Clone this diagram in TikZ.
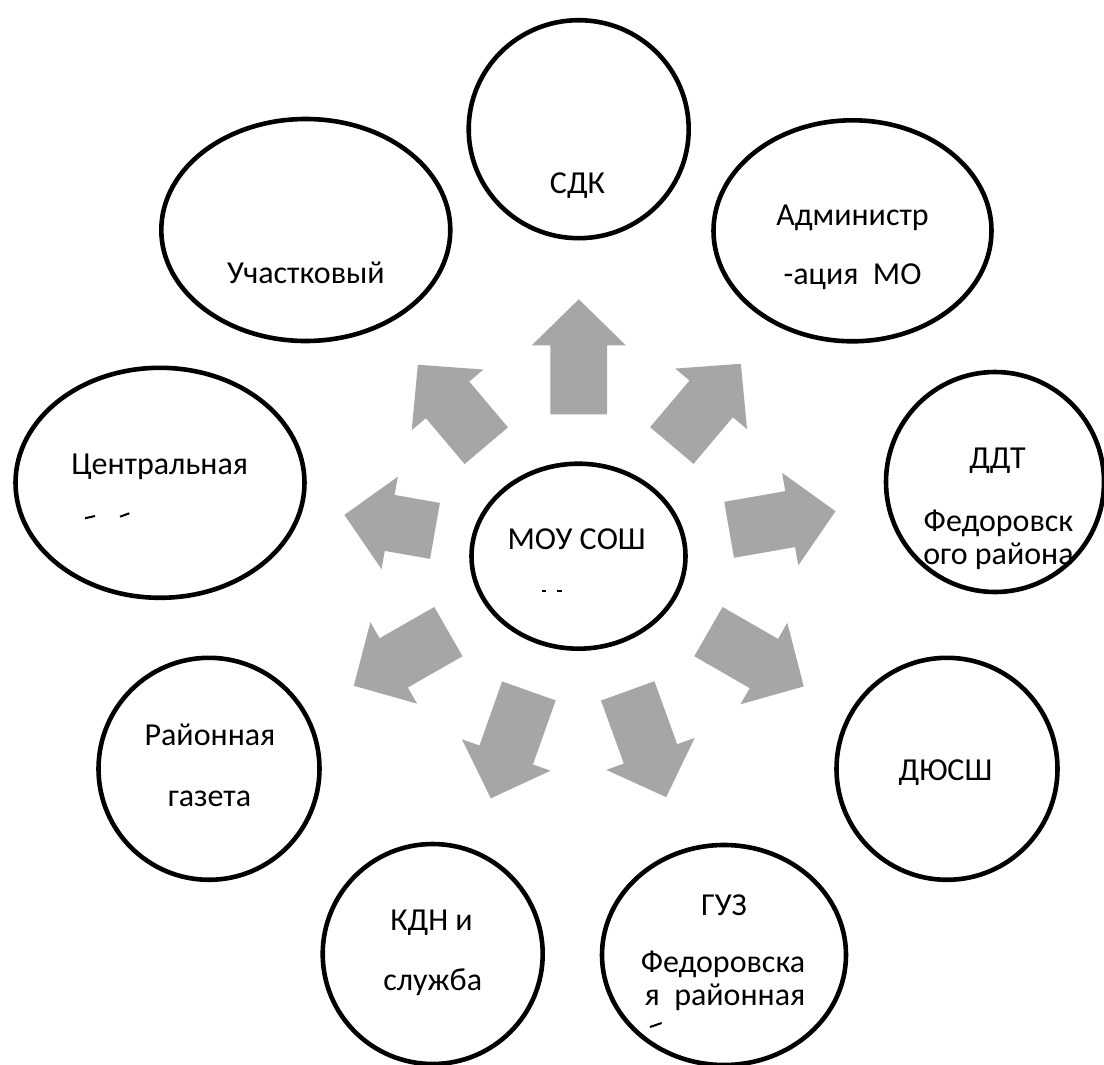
\documentclass[tikz,border=0pt]{standalone}
\usepackage{fontspec}
\setmainfont{Carlito}
\usetikzlibrary{shapes.geometric}
\definecolor{arrowgray}{RGB}{166,166,166}
\newcommand{\blockarrow}[4]{%
  \fill[arr, shift={(#1,#2)}, rotate=#3]
    (0,-28.4) -- (#4,-28.4) -- (#4,-47) -- ({#4+46},0) -- (#4,47) -- (#4,28.4) -- (0,28.4) -- cycle;}
\begin{document}
\begin{tikzpicture}[x=1pt,y=-1pt,
  circ/.style={ellipse, draw=black, line width=4.6pt, inner sep=0pt, outer sep=0pt},
  lbl/.style={anchor=base, inner sep=0pt, font=\fontsize{32}{38}\selectfont},
  arr/.style={fill=arrowgray, draw=none},
  frag/.style={draw=black, line width=2pt}]
\clip (0,0) rectangle (1104,1065);
\fill[white] (0,0) rectangle (1104,1065);

% ellipses
\node[circ, minimum width=220pt, minimum height=218pt] (sdk)  at (578.7,129.2) {};
\node[circ, minimum width=289pt, minimum height=222pt] (uch)  at (305.8,230.0) {};
\node[circ, minimum width=278pt, minimum height=221pt] (adm)  at (852.5,230.8) {};
\node[circ, minimum width=289pt, minimum height=230pt] (cen)  at (160.0,482.8) {};
\node[circ, minimum width=218pt, minimum height=220pt] (ddt)  at (995.0,482.0) {};
\node[circ, minimum width=214pt, minimum height=185pt] (mou)  at (578.5,556.2) {};
\node[circ, minimum width=221pt, minimum height=222pt] (dyu)  at (947.0,768.8) {};
\node[circ, minimum width=221pt, minimum height=222pt] (gaz)  at (209.0,768.8) {};
\node[circ, minimum width=220pt, minimum height=220pt] (kdn)  at (432.7,954.0) {};
\node[circ, minimum width=244pt, minimum height=220pt] (guz)  at (724.0,955.0) {};

% block arrows (tail x, tail y, angle, shaft length)
\blockarrow{578.8}{414.3}{90}{69}
\blockarrow{671.8}{445.5}{49.8}{61}
\blockarrow{486.3}{445.7}{130.2}{60}
\blockarrow{729.1}{529.8}{9.9}{62}
\blockarrow{435.0}{530.9}{170}{46}
\blockarrow{708.4}{631.6}{-29.9}{64}
\blockarrow{448.4}{631.6}{209.8}{63}
\blockarrow{528.9}{690.9}{250.5}{68}
\blockarrow{627.7}{690.9}{-70.1}{67}

% labels
\node[lbl] (t1)  at (577.5,193) {СДК};
\node[lbl] (t2)  at (305.9,283) {Участковый};
\node[lbl] (t3a) at (852.5,225) {Администр};
\node[lbl] (t3b) at (852.5,284) {-ация\ \ МО};
\node[lbl] (t4)  at (159.7,474) {Центральная};
\node[lbl] (t5)  at (576.7,549) {МОУ СОШ};
\node[lbl] (t6a) at (997.5,468) {ДДТ};
\node[lbl] (t6b) at (998.5,531) {Федоровск};
\node[lbl] (t6c) at (998.5,564) {ого района};
\node[lbl] (t7a) at (210.0,745) {Районная};
\node[lbl] (t7b) at (209.5,806) {газета};
\node[lbl] (t8)  at (945.5,780) {ДЮСШ};
\node[lbl] (t9a) at (431.5,930) {КДН и};
\node[lbl] (t9b) at (432.7,990) {служба};
\node[lbl] (t10a) at (724.0,915) {ГУЗ};
\node[lbl] (t10b) at (723.0,972) {Федоровска};
\node[lbl] (t10c) at (725.0,1005) {я\ \ районная};

% clipped text fragments
\coordinate (f1a) at (85,518.3);  \coordinate (f1b) at (95,516);
\coordinate (f2a) at (120,516.7); \coordinate (f2b) at (129.3,513.3);
\coordinate (f3a) at (541.7,591); \coordinate (f3b) at (546,591);
\coordinate (f4a) at (557.3,591); \coordinate (f4b) at (562,591);
\coordinate (f5a) at (650,1027);  \coordinate (f5b) at (661.7,1023);
\draw[frag] (f1a) -- (f1b);
\draw[frag] (f2a) -- (f2b);
\draw[frag, line width=1.5pt] (f3a) -- (f3b);
\draw[frag, line width=1.5pt] (f4a) -- (f4b);
\draw[frag] (f5a) -- (f5b);
\end{tikzpicture}
\end{document}
